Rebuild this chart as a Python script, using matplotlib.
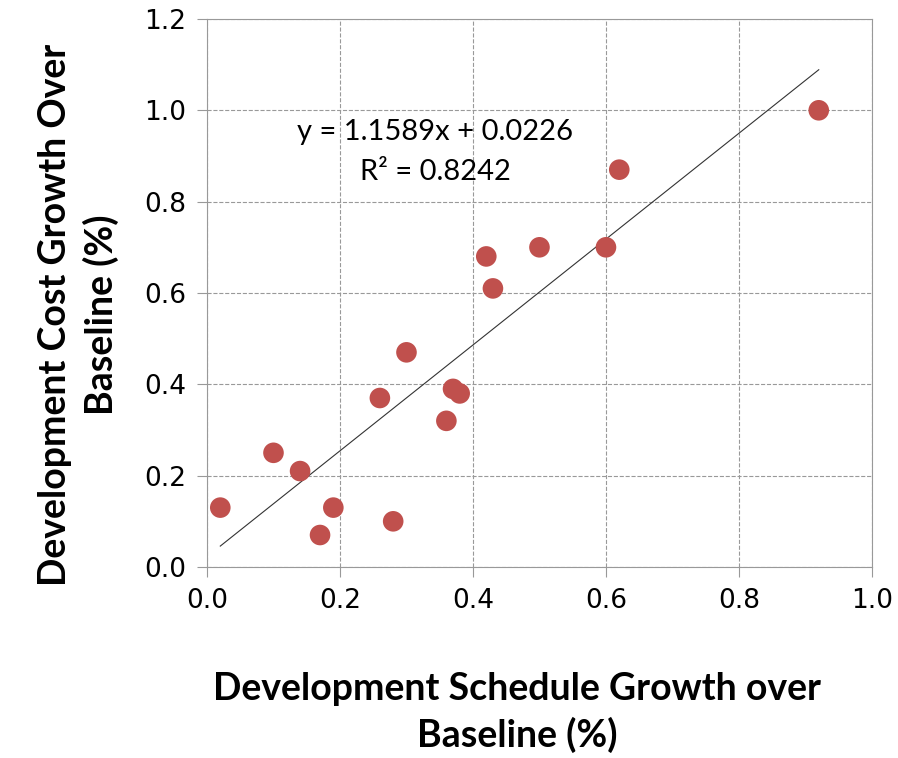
import numpy as np
import matplotlib
matplotlib.use("Agg")
import matplotlib.pyplot as plt

# schedule growth vs cost growth (fraction over baseline)
sched = [0.02, 0.10, 0.14, 0.17, 0.19, 0.26, 0.28, 0.30, 0.36, 0.37, 0.38, 0.42, 0.43, 0.50, 0.60, 0.62, 0.92]
cost = [0.13, 0.25, 0.21, 0.07, 0.13, 0.37, 0.10, 0.47, 0.32, 0.39, 0.38, 0.68, 0.61, 0.70, 0.70, 0.87, 1.00]
slope = 1.1589
icept = 0.0226
r2 = 0.8242

xticks = [0.0, 0.2, 0.4, 0.6, 0.8, 1.0]
yticks = [0.0, 0.2, 0.4, 0.6, 0.8, 1.0, 1.2]

fig = plt.figure(figsize=(8.98, 7.58), dpi=100)
ax = fig.add_axes([0.2305, 0.252, 0.7405, 0.723])

ax.scatter(sched, cost, s=220, color='#C0504D', edgecolors='none', zorder=3)

xt = np.array([min(sched), max(sched)])
ax.plot(xt, slope * xt + icept, color='#333333', lw=0.8, zorder=2)

ax.text(0.343, 0.952, f'y = {slope:.4f}x + {icept:.4f}', ha='center', va='center',
        fontsize=21, family='Lato')
ax.text(0.343, 0.865, f'R² = {r2:.4f}', ha='center', va='center',
        fontsize=21, family='Lato')

ax.set_xlim(0, 1.0)
ax.set_ylim(0, 1.2)
ax.set_xticks(xticks)
ax.set_yticks(yticks)
ax.xaxis.set_major_formatter(matplotlib.ticker.FormatStrFormatter('%.1f'))
ax.yaxis.set_major_formatter(matplotlib.ticker.FormatStrFormatter('%.1f'))
ax.tick_params(axis='both', labelsize=19, direction='out', length=7, color='#999999', pad=8)
ax.grid(True, ls='--', color='#999999', lw=0.8)
for sp in ax.spines.values():
    sp.set_color('#999999')

ax.set_xlabel('Development Schedule Growth over\nBaseline (%)', fontsize=27,
              fontweight='bold', family='Lato', labelpad=42, linespacing=1.35)
ax.set_ylabel('Development Cost Growth Over\nBaseline (%)', fontsize=27,
              fontweight='bold', family='Lato', labelpad=18, linespacing=1.35)
ax.xaxis.label.set_x(0.466)
ax.yaxis.label.set_y(0.46)

fig.savefig('out.png', dpi=100)
